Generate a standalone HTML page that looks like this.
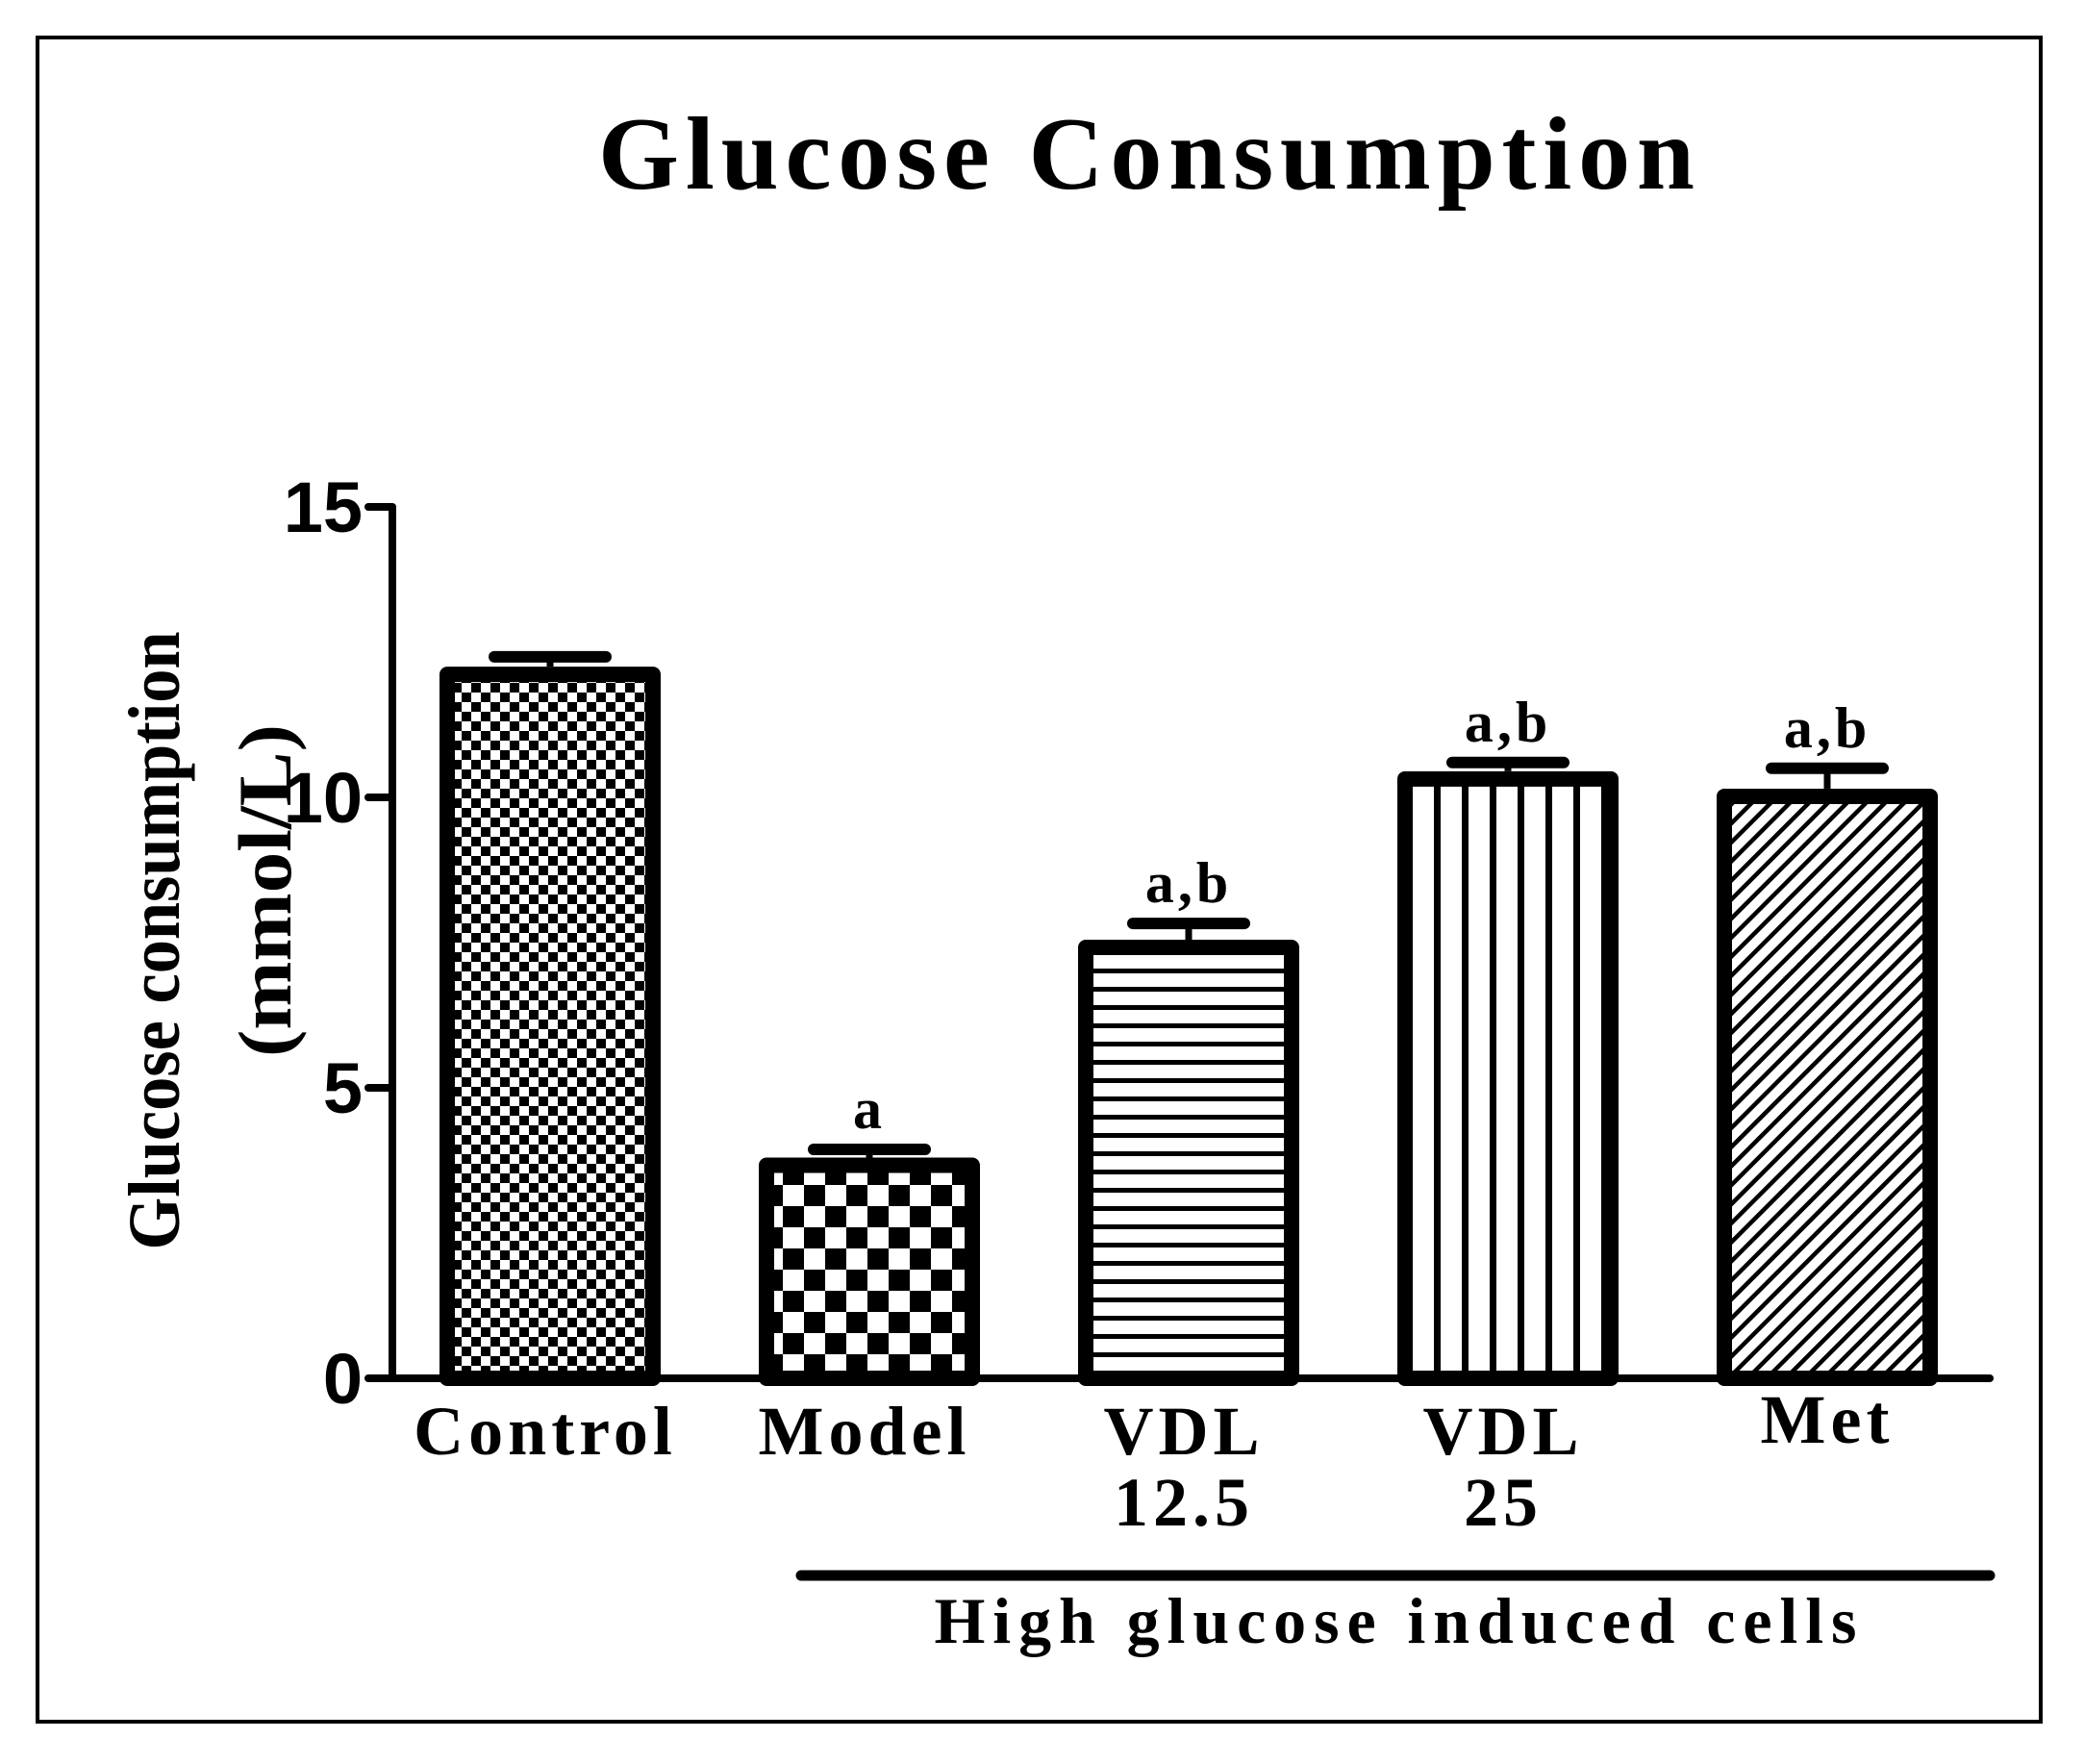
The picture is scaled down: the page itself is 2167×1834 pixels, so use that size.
<!DOCTYPE html>
<html><head><meta charset="utf-8"><style>
html,body{margin:0;padding:0;background:#fff;}
svg{display:block;}
.serif{font-family:"Liberation Serif",serif;font-weight:bold;}
.sans{font-family:"Liberation Sans",sans-serif;font-weight:bold;}
</style></head><body>
<svg id="chart" width="2167" height="1834" viewBox="0 0 2167 1834" xmlns="http://www.w3.org/2000/svg">
<defs>
<pattern id="pFine" width="20" height="20" patternUnits="userSpaceOnUse"><rect width="20" height="20" fill="#fff"/><rect width="10" height="10" fill="#000"/><rect x="10" y="10" width="10" height="10" fill="#000"/></pattern>
<pattern id="pCoarse" width="44" height="44" patternUnits="userSpaceOnUse"><rect width="44" height="44" fill="#fff"/><rect width="22" height="22" fill="#000"/><rect x="22" y="22" width="22" height="22" fill="#000"/></pattern>
<pattern id="pHoriz" width="20" height="19" patternUnits="userSpaceOnUse"><rect width="20" height="19" fill="#fff"/><rect y="0" width="20" height="5" fill="#000"/></pattern>
<pattern id="pVert" width="29" height="20" patternUnits="userSpaceOnUse"><rect width="29" height="20" fill="#fff"/><rect x="12" width="7" height="20" fill="#000"/></pattern>
<pattern id="pDiag" width="14" height="14" patternUnits="userSpaceOnUse" patternTransform="rotate(45)"><rect width="14" height="14" fill="#fff"/><rect width="4.5" height="14" fill="#000"/></pattern>
</defs>
<rect x="39" y="39" width="2083" height="1751" fill="none" stroke="#000" stroke-width="4"/>
<text x="1192" y="196" text-anchor="middle" class="serif" font-size="108" textLength="1140" lengthAdjust="spacing">Glucose Consumption</text>
<g id="plot"></g>
<g>
<text transform="translate(186,978) rotate(-90)" x="0" y="0" text-anchor="middle" class="serif" font-size="76" textLength="643" lengthAdjust="spacingAndGlyphs">Glucose consumption</text>
<text transform="translate(302,926) rotate(-90)" x="0" y="0" text-anchor="middle" class="serif" font-size="78" textLength="346" lengthAdjust="spacingAndGlyphs">(mmol/L)</text>
</g>
<line x1="833" y1="1638" x2="2069" y2="1638" stroke="#000" stroke-width="11" stroke-linecap="round"/>
<text x="1451" y="1708" text-anchor="middle" class="serif" font-size="68" textLength="959" lengthAdjust="spacing">High glucose induced cells</text>
</svg>
<script>
const categories = ["Control", "Model", "VDL 12.5", "VDL 25", "Met"];
const values = [12.25, 3.8, 7.55, 10.45, 10.15];
const errors = [0.17, 0.14, 0.28, 0.15, 0.35];
const annotations = ["", "a", "a,b", "a,b", "a,b"];
const yTicks = [0, 5, 10, 15];
const fills = ["pFine", "pCoarse", "pHoriz", "pVert", "pDiag"];
const NS = "http://www.w3.org/2000/svg";
const g = document.getElementById("plot");
const base = 1433, pxPerUnit = 60.4;
function y(v){ return base - v * pxPerUnit; }
const barW = 230, pitch = 332, x0 = 457;
function xLeft(i){ return x0 + i * pitch; }
function mk(tag, attrs, text){ const e = document.createElementNS(NS, tag); for (const k in attrs) e.setAttribute(k, attrs[k]); if (text !== undefined) e.textContent = text; g.appendChild(e); return e; }
let ax = mk("line", {x1:408, y1:y(15), x2:408, y2:base, stroke:"#000", "stroke-width":8});


yTicks.forEach(t => {
  const tl = mk("line", {x1:383, y1:y(t), x2:408, y2:y(t), stroke:"#000", "stroke-width":8, "stroke-linecap":"round"});
  
  
  const lb = mk("text", {x:377, y:y(t)+26, "text-anchor":"end", class:"sans", "font-size":74}, String(t));
  
  
});
const xLabels = [["Control"],["Model"],["VDL","12.5"],["VDL","25"],["Met"]];
values.forEach((v, i) => {
  const xl = xLeft(i), xc = xl + barW/2;
  const eTop = y(v + errors[i]);
  const el = mk("line", {x1:xc, y1:y(v), x2:xc, y2:eTop, stroke:"#000", "stroke-width":7});
  
  
  const cap = mk("line", {x1:xc-58, y1:eTop, x2:xc+58, y2:eTop, stroke:"#000", "stroke-width":12, "stroke-linecap":"round"});
  
  
  const r = mk("rect", {x:xl+8, y:y(v)+8, width:barW-16, height:base-y(v)-8, fill:"url(#"+fills[i]+")", stroke:"#000", "stroke-width":16, "stroke-linejoin":"round"});
  
  
  if (annotations[i]) {
    const a = mk("text", {x:xc, y:eTop-22, "text-anchor":"middle", class:"serif", "font-size":60, "letter-spacing":4}, annotations[i]);
    
    
  }
  xLabels[i].forEach((s, j) => {
    const t = mk("text", {x:xc+(i===4?0:-5), y:(i===4?1500:1512)+j*74, "text-anchor":"middle", class:"serif", "font-size":72, "letter-spacing":5}, s);
    
    
  });
});
const xa = mk("line", {x1:404, y1:base, x2:2069, y2:base, stroke:"#000", "stroke-width":8, "stroke-linecap":"round"});


</script>
</body></html>
